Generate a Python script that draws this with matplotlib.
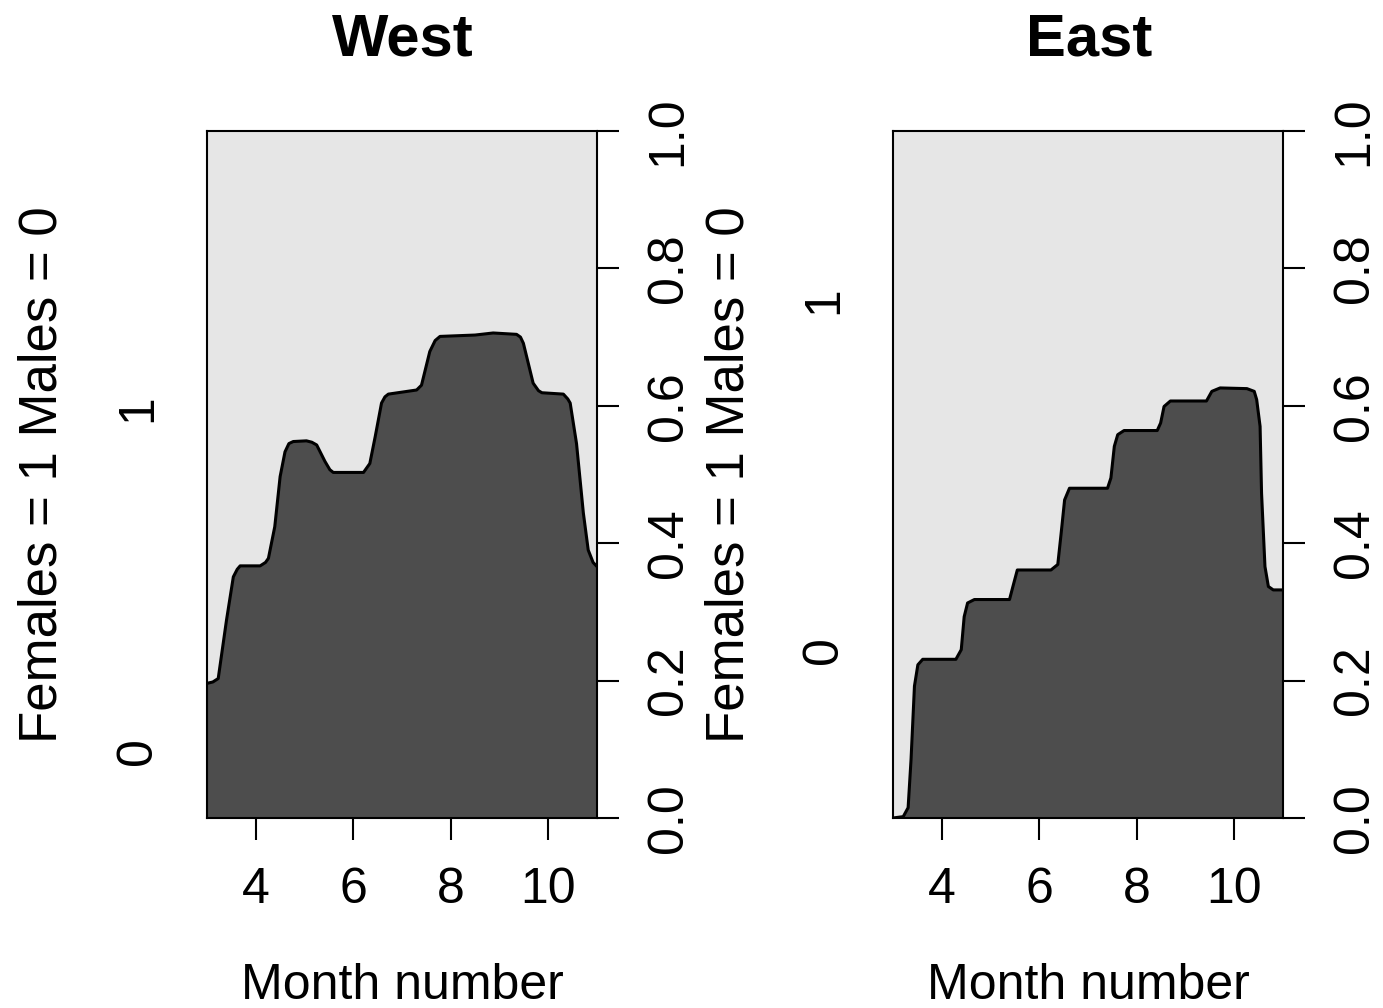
import numpy as np
import matplotlib
matplotlib.use("Agg")
import matplotlib.pyplot as plt

plt.rcParams['font.family'] = ['Liberation Sans', 'DejaVu Sans']

# ---- data (conditional density of Females = 1 vs month) ----
west_x = [3.00, 3.12, 3.23, 3.40, 3.54, 3.62, 3.68, 4.09, 4.20, 4.26, 4.39, 4.50, 4.60, 4.68, 4.77, 5.04,
          5.15, 5.25, 5.42, 5.52, 5.59, 6.21, 6.34, 6.45, 6.58, 6.65, 6.72, 7.30, 7.40, 7.57, 7.68, 7.78,
          8.50, 8.87, 9.35, 9.43, 9.49, 9.69, 9.80, 9.87, 10.31, 10.40, 10.45, 10.58, 10.72, 10.82, 10.92, 11.00]
west_y = [0.196, 0.198, 0.203, 0.288, 0.351, 0.362, 0.367, 0.367, 0.372, 0.378, 0.424, 0.497, 0.533, 0.545, 0.548, 0.549,
          0.547, 0.543, 0.519, 0.507, 0.503, 0.503, 0.516, 0.555, 0.604, 0.613, 0.617, 0.623, 0.630, 0.679, 0.695, 0.701,
          0.703, 0.706, 0.704, 0.700, 0.691, 0.633, 0.622, 0.619, 0.617, 0.610, 0.604, 0.545, 0.444, 0.390, 0.372, 0.366]

east_x = [3.00, 3.21, 3.31, 3.37, 3.44, 3.51, 3.61, 4.29, 4.40, 4.46, 4.53, 4.67,
          5.39, 5.46, 5.55, 6.24, 6.38, 6.45, 6.52, 6.62, 7.40, 7.47, 7.54, 7.61,
          7.74, 8.42, 8.49, 8.56, 8.69, 9.43, 9.54, 9.71, 10.26, 10.41, 10.46, 10.53,
          10.56, 10.63, 10.70, 10.80, 11.00]
east_y = [0.000, 0.002, 0.015, 0.085, 0.192, 0.223, 0.231, 0.231, 0.245, 0.293, 0.313, 0.318,
          0.318, 0.337, 0.361, 0.361, 0.369, 0.415, 0.463, 0.480, 0.480, 0.495, 0.541, 0.558,
          0.564, 0.564, 0.575, 0.599, 0.607, 0.607, 0.621, 0.626, 0.625, 0.621, 0.609, 0.570,
          0.473, 0.366, 0.337, 0.332, 0.332]

titles = ["West", "East"]
x_ticks = [4, 6, 8, 10]
right_ticks = [0.0, 0.2, 0.4, 0.6, 0.8, 1.0]
level_labels = ["0", "1"]
west_level_pos = [0.097, 0.596]
east_level_pos = [0.245, 0.754]

W, H = 1383, 1008
fig = plt.figure(figsize=(W / 100, H / 100), dpi=100)

dark = "#4D4D4D"
light = "#E6E6E6"
fs = 36

panels = [(207, west_x, west_y, west_level_pos, titles[0]),
          (893, east_x, east_y, east_level_pos, titles[1])]

for left_px, xs, ys, lvl_pos, title in panels:
    ax = fig.add_axes([left_px / W, 1 - 818 / H, 390 / W, 687 / H])
    xs = np.array(xs)
    ys = np.array(ys)
    ax.fill_between(xs, 0, ys, color=dark, linewidth=0)
    ax.fill_between(xs, ys, 1, color=light, linewidth=0)
    ax.plot(xs, ys, color="black", lw=2.2, solid_joinstyle='round')
    ax.set_xlim(3, 11)
    ax.set_ylim(0, 1)
    for s in ax.spines.values():
        s.set_linewidth(1.5)

    ax.set_xticks(x_ticks)
    ax.set_xticklabels([str(t) for t in x_ticks], fontsize=fs)
    ax.tick_params(axis='x', length=16, width=1.5, pad=19)

    # left: category labels, no ticks
    ax.set_yticks(lvl_pos)
    ax.set_yticklabels(level_labels, fontsize=fs, rotation=90, va='center')
    ax.tick_params(axis='y', which='both', left=True, length=0, pad=33)

    # right: probability axis
    ax2 = ax.twinx()
    ax2.set_ylim(0, 1)
    ax2.set_yticks(right_ticks)
    ax2.set_yticklabels([f"{t:.1f}" for t in right_ticks], fontsize=fs,
                        rotation=90, va='center')
    ax2.tick_params(axis='y', length=16, width=1.5, pad=19)
    for s in ax2.spines.values():
        s.set_visible(False)

    ax.set_xlabel("Month number", fontsize=fs, labelpad=36)
    ax.set_ylabel("Females = 1 Males = 0", fontsize=38)
    ax.yaxis.set_label_coords(-(207 - 43) / 390, 0.5)
    ax.yaxis.label.set_va('center')

    fig.text((left_px + 196) / W, 1 - 40 / H, title, fontsize=43,
             fontweight='bold', ha='center', va='center')

fig.savefig("out.png", dpi=100)
